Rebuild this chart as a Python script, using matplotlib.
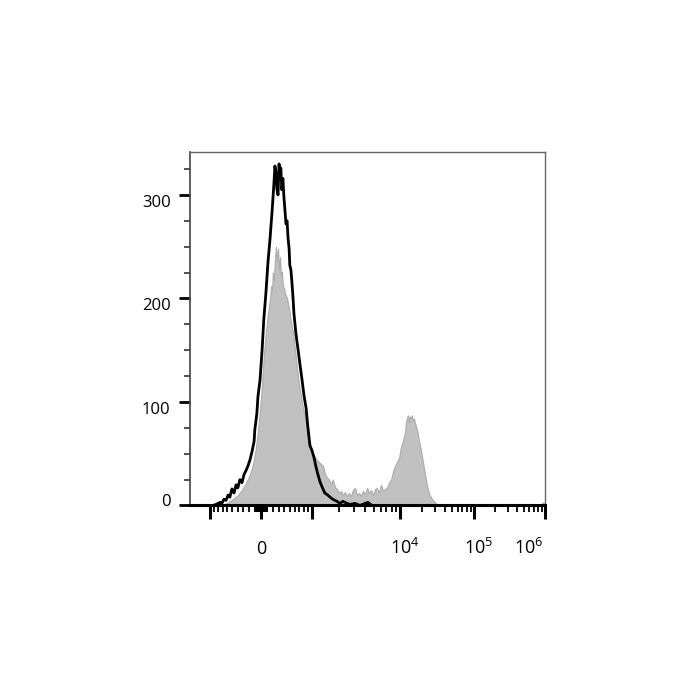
import numpy as np
import matplotlib
matplotlib.use("Agg")
import matplotlib.pyplot as plt
from matplotlib.ticker import FixedLocator, FixedFormatter
from matplotlib.transforms import ScaledTranslation

plt.rcParams['font.family'] = ['Open Sans', 'DejaVu Sans']

# ==============================================================================
# Data: histogram counts per channel (1024-channel biexponential display)
# ==============================================================================
# Stained sample (black outline)
black_ch = [60, 66, 75, 87, 92, 98, 104, 110, 115, 121, 127, 133, 138, 144, 150,
            156, 162, 167, 173, 179, 185, 187, 193, 196, 202, 208, 213, 219, 225,
            231, 237, 242, 245, 248, 251, 254, 257, 260, 262, 265, 268, 271, 274,
            277, 280, 283, 286, 288, 291, 294, 297, 300, 306, 312, 317, 323, 329,
            335, 340, 346, 352, 358, 363, 369, 375, 381, 389, 398, 404, 412, 424,
            433, 441, 453, 462, 476, 490, 513, 525, 1024]
black_cnt = [0, 0, 1, 3, 2, 6, 5, 10, 8, 16, 12, 20, 17, 25, 22,
             30, 34, 38, 44, 52, 62, 73, 89, 105, 121, 150, 180, 205, 235,
             258, 285, 310, 328, 322, 305, 300, 330, 318, 326, 305, 316, 298, 285,
             272, 275, 258, 248, 232, 228, 216, 202, 185, 165, 150, 137, 122, 106,
             94, 76, 58, 53, 46, 38, 30, 23, 18, 12, 10, 8, 6, 4,
             2, 4, 2, 1, 2, 0, 3, 0, 0]

# Control sample (grey filled)
grey_ch = [92, 104, 115, 127, 138, 150, 162, 173, 182, 190, 196, 202, 208, 213,
           219, 225, 231, 234, 237, 239, 242, 245, 248, 251, 254, 257, 260, 262,
           265, 268, 271, 274, 280, 286, 291, 297, 303, 309, 314, 320, 326, 332,
           337, 343, 349, 355, 360, 366, 372, 378, 384, 389, 395, 401, 407, 412,
           418, 424, 430, 436, 441, 447, 453, 458, 464, 470, 476, 482, 488, 493,
           499, 505, 511, 516, 522, 528, 534, 539, 545, 551, 557, 563, 568, 574,
           580, 586, 591, 597, 603, 609, 614, 620, 623, 626, 629, 632, 634, 637,
           640, 643, 646, 649, 655, 660, 666, 672, 678, 683, 689, 695, 701, 707,
           712, 721, 1010, 1018, 1024]
grey_cnt = [0, 2, 4, 7, 10, 15, 22, 30, 40, 55, 72, 92, 118, 145,
            168, 185, 200, 212, 208, 225, 218, 238, 250, 236, 248, 228, 240, 222,
            226, 212, 210, 205, 200, 190, 178, 168, 150, 132, 118, 106, 94, 86,
            74, 62, 56, 50, 47, 44, 42, 40, 38, 31, 27, 25, 21, 25,
            18, 16, 12, 14, 10, 13, 9, 12, 9, 15, 17, 10, 12, 9,
            14, 11, 17, 12, 15, 10, 16, 17, 12, 20, 14, 16, 17, 22,
            25, 33, 38, 42, 46, 57, 62, 70, 80, 85, 87, 80, 86, 84,
            87, 82, 84, 80, 73, 64, 54, 42, 30, 20, 12, 8, 5, 3,
            1, 0, 0, 3, 2]

# Axis tick values (fluorescence units)
major_vals = [-1000, 0, 1000, 1e4, 1e5, 1e6]
major_labels = ['', '0', '', r'$\mathregular{10^{4}}$',
                r'$\mathregular{10^{5}}$', r'$\mathregular{10^{6}}$']
minor_vals = ([-v for v in range(100, 1000, 100)] + list(range(100, 1000, 100)) +
              [-v for v in range(10, 100, 10)] + list(range(10, 100, 10)) +
              [m * 10 ** d for d in (3, 4, 5) for m in range(2, 10)])

y_major = [0, 100, 200, 300]
y_minor = [25, 50, 75, 125, 150, 175, 225, 250, 275, 325]

# ------------------------------------------------------------------------------
# Biexponential-like mapping: value -> display channel
# ------------------------------------------------------------------------------
ZERO_CH = 205
DECADES = [3, 4, 5, 6, 7]
DECADE_CH = [147, 401, 614, 819, 1024]


def to_channel(v):
    v = float(v)
    a = abs(v)
    if a <= 1000:
        off = DECADE_CH[0] * np.arcsinh(a / 800) / np.arcsinh(1000 / 800)
    else:
        off = np.interp(np.log10(a), DECADES, DECADE_CH)
    return ZERO_CH + np.sign(v) * off


# ==============================================================================
# Figure
# ==============================================================================
fig = plt.figure(figsize=(7, 7), dpi=100)
ax = fig.add_axes([0.2714, 0.2779, 0.5071, 0.505])

ax.fill_between(grey_ch, grey_cnt, color='#c1c1c1', edgecolor='#acacac',
                linewidth=0.8, zorder=1)
ax.plot(black_ch, black_cnt, color='black', linewidth=2.0, zorder=2)

ax.set_xlim(0, 1024)
ax.set_ylim(0, 341.5)

# x ticks
ax.xaxis.set_major_locator(FixedLocator([to_channel(v) for v in major_vals]))
ax.xaxis.set_major_formatter(FixedFormatter(major_labels))
ax.xaxis.set_minor_locator(FixedLocator([to_channel(v) for v in minor_vals]))
ax.tick_params(axis='x', which='major', direction='out', length=10, width=2.2,
               pad=25, labelsize=13, color='black')
ax.tick_params(axis='x', which='minor', direction='out', length=5, width=1.3,
               color='black')

# y ticks
ax.set_yticks(y_major)
ax.set_yticks(y_minor, minor=True)
ax.tick_params(axis='y', which='major', direction='out', length=8, width=2,
               pad=6, labelsize=12, color='black')
ax.tick_params(axis='y', which='minor', direction='out', length=4, width=1.2,
               color='#333333')

# Label placement tweaks (baseline aligned, "10" centred on the tick)
xlabels = ax.get_xticklabels()
for i, lab in enumerate(xlabels):
    lab.set_verticalalignment('baseline')
    if i in (3, 4):
        lab.set_transform(lab.get_transform() +
                          ScaledTranslation(0.05, 0, fig.dpi_scale_trans))
xlabels[-1].set_horizontalalignment('right')
xlabels[-1].set_transform(xlabels[-1].get_transform() +
                          ScaledTranslation(-0.02, 0, fig.dpi_scale_trans))

for i, lab in enumerate(ax.get_yticklabels()):
    dy = 0.05 if i == 0 else -0.06
    lab.set_transform(lab.get_transform() +
                      ScaledTranslation(0, dy, fig.dpi_scale_trans))

# Frame
ax.spines['bottom'].set_linewidth(2.2)
ax.spines['bottom'].set_color('black')
ax.spines['left'].set_linewidth(1.2)
ax.spines['left'].set_color('#444444')
for s in ['top', 'right']:
    ax.spines[s].set_linewidth(1.0)
    ax.spines[s].set_color('#666666')

plt.savefig("out.png", dpi=100)
